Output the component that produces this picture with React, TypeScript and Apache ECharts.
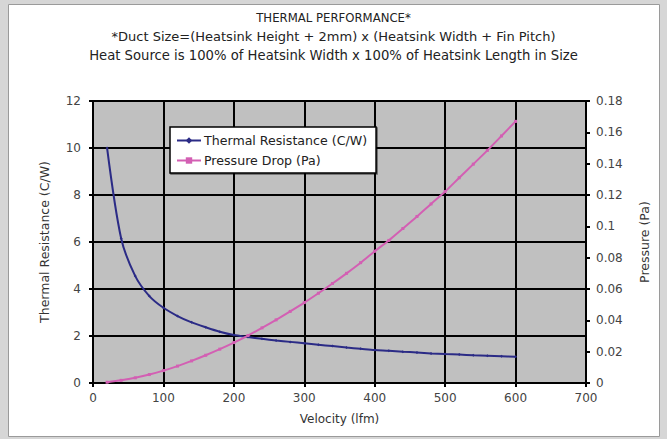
import React, { useEffect, useRef } from "react";
import * as echarts from "echarts";

const velocity = [
  20, 40, 60, 80, 100, 120, 140, 160, 180, 200, 220, 240, 260, 280, 300,
  320, 340, 360, 380, 400, 420, 440, 460, 480, 500, 520, 540, 560, 580, 600,
];
const thermalResistance = [
  10.0, 6.15, 4.55, 3.7, 3.2, 2.85, 2.58, 2.37, 2.18, 2.04, 1.96, 1.88, 1.81,
  1.75, 1.69, 1.63, 1.57, 1.51, 1.455, 1.4, 1.37, 1.33, 1.3, 1.26, 1.23, 1.21,
  1.18, 1.16, 1.14, 1.12,
];
const pressureDrop = [
  0.0005, 0.0017, 0.0033, 0.0054, 0.0079, 0.0108, 0.0141, 0.0177, 0.0216,
  0.0258, 0.0303, 0.0352, 0.0403, 0.0457, 0.0513, 0.0573, 0.0635, 0.07,
  0.0768, 0.0841, 0.091, 0.0986, 0.1063, 0.1143, 0.1222, 0.131, 0.1397,
  0.1485, 0.1577, 0.167,
];
const titleLines = [
  "THERMAL PERFORMANCE*",
  "*Duct Size=(Heatsink Height + 2mm) x (Heatsink Width + Fin Pitch)",
  "Heat Source is 100% of Heatsink Width x 100% of Heatsink Length in Size",
];
const seriesNames = ["Thermal Resistance (C/W)", "Pressure Drop (Pa)"];

const FONT = "DejaVu Sans";

export default function App() {
  const ref = useRef<HTMLDivElement>(null);
  useEffect(() => {
    document.body.style.margin = "0";
    const chart = echarts.init(ref.current!, null, { renderer: "svg" });
    const titleTops = [12, 30, 49];
    const titleSizes = [11.7, 13, 13.2];
    chart.setOption({
      animation: false,
      backgroundColor: "#d6d6d6",
      graphic: [
        {
          type: "rect",
          shape: { x: 8.5, y: 4.5, width: 651, height: 432 },
          style: { fill: "#ffffff", stroke: "#9a9a9a", lineWidth: 1 },
          z: -10,
        },
      ],
      title: titleLines.map((t, i) => ({
        text: t,
        left: "center",
        top: titleTops[i],
        padding: 0,
        textStyle: {
          fontFamily: FONT,
          fontSize: titleSizes[i],
          fontWeight: "normal",
          color: "#222",
        },
      })),
      legend: {
        orient: "vertical",
        left: 170,
        top: 127,
        backgroundColor: "#ffffff",
        borderColor: "#000",
        borderWidth: 1.5,
        borderRadius: 0,
        padding: [7, 9, 6, 6],
        itemWidth: 24,
        itemHeight: 8,
        itemGap: 7,
        shadowColor: "rgba(0,0,0,0.5)",
        shadowOffsetX: 1,
        shadowOffsetY: 1,
        textStyle: { fontFamily: FONT, fontSize: 12.6, color: "#222", padding: [0, 0, 0, -2] },
        data: seriesNames,
      },
      grid: {
        left: 93,
        right: 81,
        top: 101,
        bottom: 56,
        show: true,
        backgroundColor: "#c0c0c0",
        borderWidth: 0,
      },
      xAxis: {
        type: "value",
        min: 0,
        max: 700,
        interval: 100,
        name: "Velocity (lfm)",
        nameLocation: "middle",
        nameGap: 30,
        nameTextStyle: { fontFamily: FONT, fontSize: 12, color: "#333" },
        axisLine: { lineStyle: { color: "#000", width: 2 } },
        axisTick: { show: true, length: 4, lineStyle: { color: "#000", width: 2 } },
        axisLabel: { fontFamily: FONT, fontSize: 12, color: "#444", margin: 9 },
        splitLine: { show: true, lineStyle: { color: "#000", width: 2 } },
      },
      yAxis: [
        {
          type: "value",
          min: 0,
          max: 12,
          interval: 2,
          position: "left",
          name: "Thermal Resistance (C/W)",
          nameLocation: "middle",
          nameRotate: 90,
          nameGap: 42,
          nameTextStyle: { fontFamily: FONT, fontSize: 12.5, color: "#333" },
          axisLine: { show: true, lineStyle: { color: "#000", width: 2 } },
          axisTick: { show: true, length: 4, lineStyle: { color: "#000", width: 2 } },
          axisLabel: { fontFamily: FONT, fontSize: 12, color: "#444", margin: 12 },
          splitLine: { show: true, lineStyle: { color: "#000", width: 2 } },
        },
        {
          type: "value",
          min: 0,
          max: 0.18,
          interval: 0.02,
          position: "right",
          name: "Pressure (Pa)",
          nameLocation: "middle",
          nameRotate: 90,
          nameGap: 52,
          nameTextStyle: { fontFamily: FONT, fontSize: 12.5, color: "#333" },
          axisLine: { show: true, lineStyle: { color: "#000", width: 2 } },
          axisTick: { show: true, length: 4, lineStyle: { color: "#000", width: 2 } },
          axisLabel: { fontFamily: FONT, fontSize: 12, color: "#444", margin: 10 },
          splitLine: { show: false },
        },
      ],
      series: [
        {
          name: seriesNames[0],
          type: "line",
          yAxisIndex: 0,
          data: velocity.map((v, i) => [v, thermalResistance[i]]),
          symbol: "diamond",
          symbolSize: 3,
          showSymbol: true,
          smooth: 0.3,
          lineStyle: { color: "#2b2b86", width: 2 },
          itemStyle: { color: "#2b2b86" },
          z: 3,
        },
        {
          name: seriesNames[1],
          type: "line",
          yAxisIndex: 1,
          data: velocity.map((v, i) => [v, pressureDrop[i]]),
          symbol: "rect",
          symbolSize: 3,
          showSymbol: true,
          smooth: 0.3,
          lineStyle: { color: "#d35fb3", width: 2 },
          itemStyle: { color: "#d35fb3" },
          z: 4,
        },
      ],
    });
    return () => chart.dispose();
  }, []);
  return <div ref={ref} style={{ width: 667, height: 439 }} />;
}
